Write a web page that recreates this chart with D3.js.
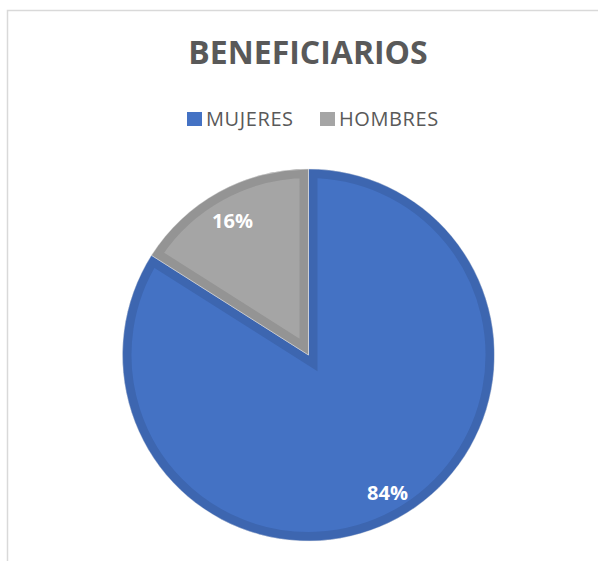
<!DOCTYPE html>
<html>
  <head>
    <meta charset="utf-8">
    <title>Beneficiarios</title>
    <script src="https://d3js.org/d3.v7.min.js"></script>
    <style>
      body { margin: 0; background: #fff; }
      text { font-family: "Open Sans", "Liberation Sans", sans-serif; }
    </style>
  </head>
  <body>
    <div id="chart"></div>
    <script>
      // Data
      var categories = ["MUJERES", "HOMBRES"];
      var values = [84, 16];
      var labels = ["84%", "16%"];
      var colors = ["#4472C4", "#A5A5A5"];
      var borders = ["#3D66B0", "#949494"];

      var width = 598,
        height = 561;

      var svg = d3.select("#chart").append("svg")
        .attr("width", width)
        .attr("height", height);

      // chart frame (only top and left edges are visible)
      svg.append("rect")
        .attr("x", 7.5).attr("y", 10.5)
        .attr("width", 620).attr("height", 600)
        .attr("fill", "none")
        .attr("stroke", "#d9d9d9")
        .attr("stroke-width", 1.5);

      // title
      svg.append("text")
        .attr("x", 308).attr("y", 64)
        .attr("text-anchor", "middle")
        .attr("font-size", 32)
        .attr("font-weight", "bold")
        .attr("fill", "#595959")
        .text("BENEFICIARIOS");

      // legend
      var legendX = [187, 320];
      var legend = svg.append("g").selectAll("g")
        .data(categories)
        .enter().append("g")
        .attr("transform", function (d, i) { return "translate(" + legendX[i] + ",112)"; });
      legend.append("rect")
        .attr("width", 15).attr("height", 14)
        .attr("fill", function (d, i) { return colors[i]; });
      legend.append("text")
        .attr("x", 19).attr("y", 14)
        .attr("font-size", 20)
        .attr("letter-spacing", 0.6)
        .attr("fill", "#595959")
        .text(function (d) { return d; });

      // pie
      var cx = 308.5, cy = 355, r = 186;
      var pie = d3.pie().sort(null).value(function (d) { return d; });
      var arc = d3.arc().innerRadius(0).outerRadius(r);
      var arcs = pie(values);

      var g = svg.append("g").attr("transform", "translate(" + cx + "," + cy + ")");

      var defs = svg.append("defs");
      arcs.forEach(function (a, i) {
        defs.append("clipPath").attr("id", "clip" + i)
          .append("path").attr("d", arc(a));
      });

      var slices = g.selectAll("g.slice")
        .data(arcs)
        .enter().append("g")
        .attr("class", "slice");

      slices.append("path")
        .attr("d", arc)
        .attr("fill", function (d, i) { return colors[i]; })
        .attr("stroke", function (d, i) { return borders[i]; })
        .attr("stroke-width", 18)
        .attr("stroke-linejoin", "miter")
        .attr("clip-path", function (d, i) { return "url(#clip" + i + ")"; });

      slices.append("path")
        .attr("d", arc)
        .attr("fill", "none")
        .attr("stroke", "#e8e8e8")
        .attr("stroke-width", 0.5);

      // data labels
      var labelPos = [[79, 145], [-76, -127]];
      g.selectAll("text.lbl")
        .data(arcs)
        .enter().append("text")
        .attr("class", "lbl")
        .attr("x", function (d, i) { return labelPos[i][0]; })
        .attr("y", function (d, i) { return labelPos[i][1]; })
        .attr("text-anchor", "middle")
        .attr("font-size", 20)
        .attr("font-weight", "bold")
        .attr("fill", "#fff")
        .text(function (d, i) { return labels[i]; });
    </script>
  </body>
</html>
